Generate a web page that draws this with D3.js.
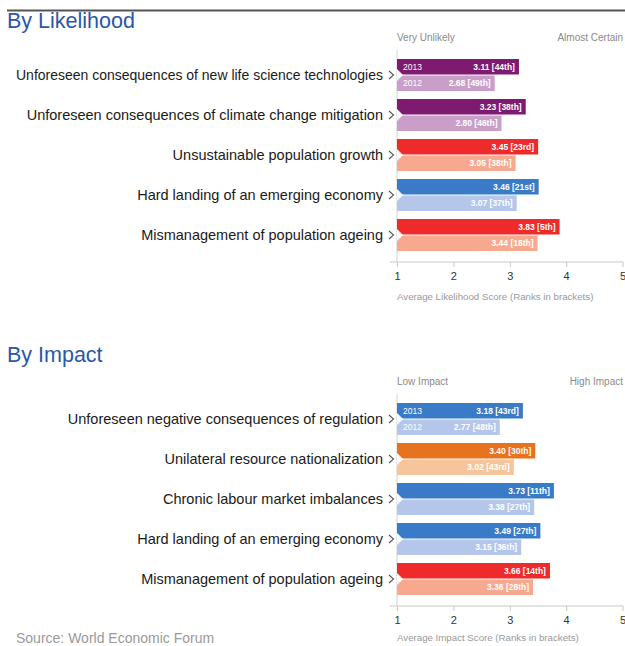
<!DOCTYPE html>
<html>
<head>
<meta charset="utf-8">
<script src="https://cdn.jsdelivr.net/npm/d3@7"></script>
<style>
  body { margin: 0; background: #fff; }
  svg { display: block; font-family: "Liberation Sans", Arial, sans-serif; }
</style>
</head>
<body>
<svg width="625" height="646"></svg>
<script>
// likelihood panel
var likelihoodRisks = [
  'Unforeseen consequences of new life science technologies',
  'Unforeseen consequences of climate change mitigation',
  'Unsustainable population growth',
  'Hard landing of an emerging economy',
  'Mismanagement of population ageing'
]
var likelihood2013 = [3.11, 3.23, 3.45, 3.46, 3.83]
var likelihood2012 = [2.68, 2.80, 3.05, 3.07, 3.44]
var likelihoodRank2013 = ['44th', '38th', '23rd', '21st', '5th']
var likelihoodRank2012 = ['49th', '46th', '38th', '37th', '18th']
var likelihoodTheme = ['technological', 'technological', 'societal', 'economic', 'societal']

// impact panel
var impactRisks = [
  'Unforeseen negative consequences of regulation',
  'Unilateral resource nationalization',
  'Chronic labour market imbalances',
  'Hard landing of an emerging economy',
  'Mismanagement of population ageing'
]
var impact2013 = [3.18, 3.40, 3.73, 3.49, 3.66]
var impact2012 = [2.77, 3.02, 3.38, 3.15, 3.36]
var impactRank2013 = ['43rd', '30th', '11th', '27th', '14th']
var impactRank2012 = ['48th', '43rd', '27th', '36th', '28th']
var impactTheme = ['economic', 'geopolitical', 'economic', 'economic', 'societal']

var years = ['2013', '2012']
var scoreTicks = [1, 2, 3, 4, 5]

var themeColors = {
  technological: ['#7e1b70', '#c99fc9'],
  societal: ['#ee2a2a', '#f6a98f'],
  economic: ['#3a7bc8', '#b4c6ea'],
  geopolitical: ['#e8731e', '#f6c59b']
}

var svg = d3.select('svg')

// top rule
svg.append('line')
  .attr('x1', 7).attr('x2', 625)
  .attr('y1', 10.5).attr('y2', 10.5)
  .attr('stroke', '#555').attr('stroke-width', 2)

var x = d3.scaleLinear().domain([1, 5]).range([397, 622.5])

var draw_panel = function(opts) {
  var top = opts.top
  var g = svg.append('g')

  g.append('text')
    .attr('x', 7).attr('y', opts.titleY)
    .attr('font-size', 21.5)
    .attr('fill', '#2b57a8')
    .text(opts.title)

  g.append('text')
    .attr('x', 397).attr('y', top - 3)
    .attr('font-size', 10).attr('fill', '#8a8a8a')
    .text(opts.lowLabel)
  g.append('text')
    .attr('x', 623).attr('y', top - 3)
    .attr('text-anchor', 'end')
    .attr('font-size', 10).attr('fill', '#8a8a8a')
    .text(opts.highLabel)

  var y = d3.scaleBand()
    .domain(opts.risks)
    .range([top + 11, top + 211])
    .paddingInner(0.2)
    .paddingOuter(0.1)

  var yYear = d3.scaleBand()
    .domain(years)
    .range([0, y.bandwidth()])
    .paddingInner(0.06)

  // vertical axis line
  var axisY = top + 218
  g.append('line')
    .attr('x1', x(1)).attr('x2', x(1))
    .attr('y1', top + 6).attr('y2', axisY)
    .attr('stroke', '#d0d0d0')

  // bottom axis
  var axis = g.append('g')
    .attr('transform', 'translate(0,' + axisY + ')')
    .call(d3.axisBottom(x).tickValues(scoreTicks).tickFormat(d3.format('d')).tickSize(5))
  axis.select('.domain').remove()
  axis.selectAll('.tick line').attr('stroke', '#c8c8c8')
  axis.selectAll('.tick text')
    .attr('font-size', 11).attr('fill', '#333')
    .attr('font-family', '"Liberation Sans", Arial, sans-serif')
    .attr('dy', '0.9em')
  g.append('line')
    .attr('x1', 390).attr('x2', 623)
    .attr('y1', axisY).attr('y2', axisY)
    .attr('stroke', '#c8c8c8')

  g.append('text')
    .attr('x', 397).attr('y', opts.axisTitleY)
    .attr('font-size', 9.7).attr('fill', '#999')
    .text(opts.axisTitle)

  var rows = opts.risks.map(function(r, i) {
    return {
      risk: r,
      theme: opts.theme[i],
      vals: [
        {year: '2013', v: opts.v2013[i], rank: opts.r2013[i]},
        {year: '2012', v: opts.v2012[i], rank: opts.r2012[i]}
      ]
    }
  })

  var row = g.selectAll('.row')
    .data(rows)
    .enter()
    .append('g')
    .attr('class', 'row')
    .attr('transform', function(d) { return 'translate(0,' + y(d.risk) + ')' })

  // category labels, squeezed if too long for the left column
  row.append('text')
    .attr('x', 383)
    .attr('y', y.bandwidth() / 2)
    .attr('dy', '0.35em')
    .attr('text-anchor', 'end')
    .attr('font-size', 14.5)
    .attr('fill', '#1a1a1a')
    .text(function(d) { return d.risk })
    .each(function() {
      var maxW = 367
      if (this.getComputedTextLength() > maxW) {
        d3.select(this).attr('textLength', maxW).attr('lengthAdjust', 'spacingAndGlyphs')
      }
    })

  // chevron
  row.append('path')
    .attr('d', 'M389,' + (y.bandwidth() / 2 - 4) + 'l4.5,4l-4.5,4')
    .attr('fill', 'none')
    .attr('stroke', '#555')
    .attr('stroke-width', 1.1)

  var bar = row.selectAll('.bar')
    .data(function(d) { return d.vals.map(function(v, k) { return {theme: d.theme, year: v.year, v: v.v, rank: v.rank, k: k} }) })
    .enter()
    .append('g')
    .attr('class', 'bar')

  bar.append('rect')
    .attr('x', x(1))
    .attr('y', function(d) { return yYear(d.year) })
    .attr('height', yYear.bandwidth())
    .attr('width', function(d) { return x(d.v) - x(1) + 3 })
    .attr('fill', function(d) { return themeColors[d.theme][d.k] })

  bar.append('text')
    .attr('x', function(d) { return x(d.v) - 1 })
    .attr('y', function(d) { return yYear(d.year) + yYear.bandwidth() / 2 })
    .attr('dy', '0.35em')
    .attr('text-anchor', 'end')
    .attr('font-size', 8.5)
    .attr('font-weight', 'bold')
    .attr('fill', '#fff')
    .text(function(d) { return d3.format('.2f')(d.v) + ' [' + d.rank + ']' })

  // notch on left edge
  row.append('path')
    .attr('d', 'M' + x(1) + ',' + (y.bandwidth() / 2 - 6) + 'l6,6l-6,6z')
    .attr('fill', '#fff')

  // year labels on first row only
  g.selectAll('.yr')
    .data(years)
    .enter()
    .append('text')
    .attr('x', 403)
    .attr('y', function(d) { return y(opts.risks[0]) + yYear(d) + yYear.bandwidth() / 2 })
    .attr('dy', '0.35em')
    .attr('font-size', 8.5)
    .attr('fill', '#fff')
    .text(function(d) { return d })
}

draw_panel({
  top: 44, titleY: 28, axisTitleY: 300, title: 'By Likelihood',
  lowLabel: 'Very Unlikely', highLabel: 'Almost Certain',
  axisTitle: 'Average Likelihood Score (Ranks in brackets)',
  risks: likelihoodRisks, theme: likelihoodTheme,
  v2013: likelihood2013, v2012: likelihood2012,
  r2013: likelihoodRank2013, r2012: likelihoodRank2012
})

draw_panel({
  top: 388, titleY: 362, axisTitleY: 641, title: 'By Impact',
  lowLabel: 'Low Impact', highLabel: 'High Impact',
  axisTitle: 'Average Impact Score (Ranks in brackets)',
  risks: impactRisks, theme: impactTheme,
  v2013: impact2013, v2012: impact2012,
  r2013: impactRank2013, r2012: impactRank2012
})

svg.append('text')
  .attr('x', 16).attr('y', 643)
  .attr('font-size', 14).attr('fill', '#9a9a9a')
  .text('Source: World Economic Forum')
</script>
</body>
</html>
